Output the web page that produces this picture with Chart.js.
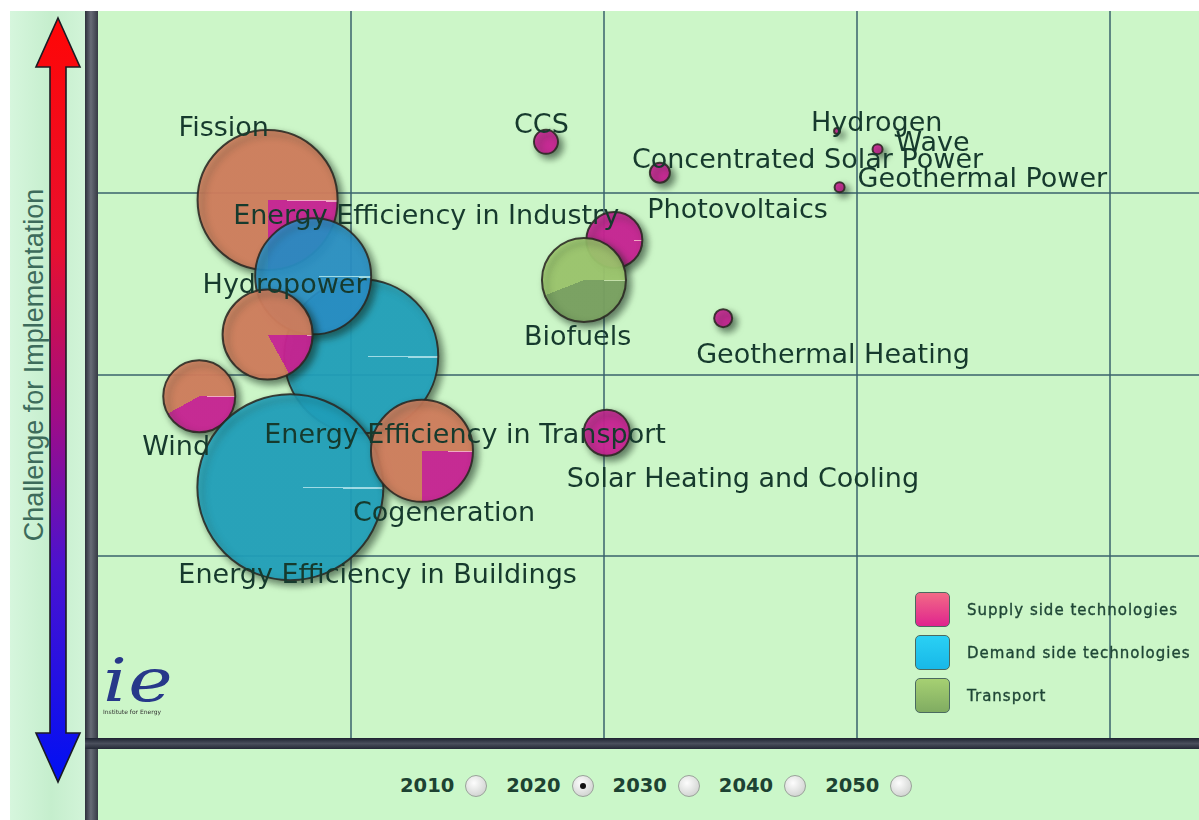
<!DOCTYPE html>
<html>
<head>
<meta charset="utf-8">
<title>Energy technologies - challenge for implementation</title>
<script src="https://cdn.jsdelivr.net/npm/chart.js@4.4.1/dist/chart.umd.min.js"></script>
<style>
body { margin:0; width:1199px; height:820px; overflow:hidden; position:relative; background:#fff; font-family:"DejaVu Sans", sans-serif; }
#side { position:absolute; left:10px; top:11px; width:75px; height:809px; background:linear-gradient(to right, #d6f6dd, #c5eecd 55%, #d2f4d8); }
#side svg { position:absolute; left:0; top:0; }
#axisTitle { position:absolute; left:24px; top:354px; transform:translate(-50%, -50%) rotate(-90deg); white-space:nowrap; font:27px "Liberation Sans", Arial, sans-serif; color:#3d6b5b; }
#vbar { position:absolute; left:85px; top:11px; width:13px; height:809px; background:linear-gradient(to right, #2c303a, #676b76 45%, #363a45); }
#plot { position:absolute; left:98px; top:11px; width:1101px; height:727px; background:#ccf6c8; }
#plot canvas { position:absolute; left:0; top:0; }
#hbar { position:absolute; left:85px; top:738px; width:1114px; height:11px; background:linear-gradient(#1d2230, #4a4f5c 50%, #242936); }
#bottom { position:absolute; left:98px; top:749px; width:1101px; height:71px; background:#cbf7c9; }
#years { position:absolute; left:400px; top:774px; display:flex; align-items:center; }
#years .yr { font:bold 19.5px "DejaVu Sans", sans-serif; color:#1d4232; }
#years .radio { width:20px; height:20px; border-radius:50%; border:1px solid #9aa29a; margin:0 19px 0 11px; background:radial-gradient(circle at 40% 35%, #fdfdfd, #d6d8d6 70%, #bfc2bf); position:relative; }
#years .radio.on:after { content:""; position:absolute; left:7px; top:7px; width:6px; height:6px; border-radius:50%; background:#111; }
#legend { position:absolute; left:915px; top:592px; }
#legend .row { display:flex; align-items:center; height:35px; margin-bottom:8px; }
#legend .sw { width:33px; height:33px; border-radius:5px; border:1px solid #4a6a60; margin-right:17px; }
#legend .txt { font:15px "DejaVu Sans", sans-serif; letter-spacing:1px; color:#1f4636; -webkit-text-stroke:0.35px #1f4636; }
#logo { position:absolute; left:103px; top:648px; color:#27388a; }
#logo .ie { font:italic 60px "DejaVu Serif", serif; line-height:64px; letter-spacing:1px; transform:scaleX(1.25); transform-origin:left; }
#logo .sub { font:6px "DejaVu Sans", sans-serif; color:#333; margin-top:-4px; }
</style>
</head>
<body>

<div id="side">
  <svg width="75" height="809">
    <defs>
      <linearGradient id="arrowGrad" x1="0" y1="0" x2="0" y2="1">
        <stop offset="0" stop-color="#ff0606"/>
        <stop offset="0.3" stop-color="#e8102e"/>
        <stop offset="0.52" stop-color="#a00c86"/>
        <stop offset="0.72" stop-color="#4a12d0"/>
        <stop offset="1" stop-color="#0010f4"/>
      </linearGradient>
    </defs>
    <polygon points="48,7 70,56 56,56 56,722 70,722 48,771 26,722 40,722 40,56 26,56"
             fill="url(#arrowGrad)" stroke="#1c1c24" stroke-width="1.6"/>
  </svg>
  <div id="axisTitle">Challenge for Implementation</div>
</div>
<div id="vbar"></div>
<div id="plot"><canvas id="bubbles" width="1101" height="727" style="width:1101px;height:727px"></canvas></div>
<div id="hbar"></div>
<div id="bottom"></div>

<div id="legend">
  <div class="row"><div class="sw" style="background:linear-gradient(#f26a86, #e0248e)"></div><span class="txt">Supply side technologies</span></div>
  <div class="row"><div class="sw" style="background:linear-gradient(#2ad0f4, #18b8e8)"></div><span class="txt">Demand side technologies</span></div>
  <div class="row"><div class="sw" style="background:linear-gradient(#a6d072, #80ac62)"></div><span class="txt">Transport</span></div>
</div>

<div id="logo"><div class="ie">ie</div><div class="sub">Institute for Energy</div></div>

<div id="years"></div>

<script>
// values, in drawing order (first = bottom)
var technologies = ['Energy Efficiency in Transport', 'Fission', 'Energy Efficiency in Industry', 'Hydropower',
    'Wind', 'Energy Efficiency in Buildings', 'Cogeneration', 'Photovoltaics', 'Biofuels', 'CCS',
    'Concentrated Solar Power', 'Geothermal Heating', 'Solar Heating and Cooling', 'Hydrogen', 'Wave',
    'Geothermal Power'];
var sectors = ['demand', 'supply', 'demand', 'supply', 'supply', 'demand', 'supply', 'supply', 'transport',
    'supply', 'supply', 'supply', 'supply', 'supply', 'supply', 'supply'];
var timeToMarket = [1.04, 0.67, 0.85, 0.67, 0.40, 0.76, 1.28, 2.04, 1.92, 1.77, 2.22, 2.47, 2.01, 2.92, 3.08, 2.93];
var challenge = [2.10, 2.96, 2.54, 2.22, 1.88, 1.38, 1.58, 2.74, 2.52, 3.28, 3.11, 2.31, 1.68, 3.34, 3.24, 3.03];
var potential = [77, 70, 58, 45, 36, 93, 51, 28, 42, 12, 10, 9, 23, 3, 5, 5];
var secondShare = [0, 0.25, 0, 0.17, 0.42, 0, 0.25, 1, 0.44, 1, 1, 1, 1, 1, 1, 1];
var xTicks = [1, 2, 3, 4];
var yTicks = [1, 2, 3];
var years = ['2010', '2020', '2030', '2040', '2050'];
var selectedYear = '2020';

var sectorColors = {
    supply: ['rgba(214,128,95,0.92)', 'rgba(204,36,150,0.93)', 'rgba(255,175,205,0.9)'],
    demand: ['rgba(32,166,196,0.88)', 'rgba(32,166,196,0.88)', 'rgba(165,228,242,0.9)'],
    transport: ['rgba(162,204,112,0.9)', 'rgba(124,164,98,0.93)', 'rgba(205,232,175,0.9)']
};
// the industry bubble is a bluer shade than the other demand bubbles
var bubbleTint = { 'Energy Efficiency in Industry': 'rgba(42,148,206,0.88)' };

// where each name sits relative to its bubble centre
var labelOffset = {
    'Fission': [-89, -71], 'Energy Efficiency in Industry': [-80, -59], 'Hydropower': [-65, -49],
    'Energy Efficiency in Transport': [-97, 80], 'Wind': [-57, 52], 'Energy Efficiency in Buildings': [-112, 89],
    'Cogeneration': [-69, 63], 'Photovoltaics': [33, -29], 'Biofuels': [-60, 58], 'CCS': [-32, -16],
    'Concentrated Solar Power': [-28, -12], 'Geothermal Heating': [-27, 38], 'Solar Heating and Cooling': [-40, 47],
    'Hydrogen': [-26, -7], 'Wave': [18, -5], 'Geothermal Power': [18, -7]
};

function pieFill(c) {
    var i = c.dataIndex;
    var col = sectorColors[sectors[i]].slice();
    var tint = bubbleTint[technologies[i]];
    if (tint) {
        col[0] = tint;
        col[1] = tint;
    }
    var chart = c.chart;
    if (c.type !== 'data' || !chart.scales || !chart.scales.x) {
        return col[0];
    }
    var px = chart.scales.x.getPixelForValue(timeToMarket[i]);
    var py = chart.scales.y.getPixelForValue(challenge[i]);
    if (!isFinite(px) || !isFinite(py)) {
        return col[0];
    }
    var share = secondShare[i];
    var g = chart.ctx.createConicGradient(0, px, py);
    g.addColorStop(0, col[2]);
    g.addColorStop(0.004, col[2]);
    if (share > 0) {
        g.addColorStop(0.004, col[1]);
        g.addColorStop(share, col[1]);
    }
    if (share < 1) {
        g.addColorStop(Math.max(share, 0.004), col[0]);
        g.addColorStop(1, col[0]);
    } else {
        g.addColorStop(1, col[1]);
    }
    return g;
}

var bubbleShadow = {
    id: 'bubbleShadow',
    beforeDatasetDraw: function (chart) {
        var ctx = chart.ctx;
        ctx.save();
        ctx.shadowColor = 'rgba(15, 35, 20, 0.62)';
        ctx.shadowBlur = 7;
        ctx.shadowOffsetX = 4;
        ctx.shadowOffsetY = 4;
    },
    afterDatasetDraw: function (chart) {
        chart.ctx.restore();
    }
};

var bubbleLabels = {
    id: 'bubbleLabels',
    afterDatasetsDraw: function (chart) {
        var ctx = chart.ctx;
        var meta = chart.getDatasetMeta(0);
        ctx.save();
        ctx.font = '27px "DejaVu Sans"';
        ctx.fillStyle = '#163a2d';
        ctx.textBaseline = 'middle';
        meta.data.forEach(function (el, i) {
            var off = labelOffset[technologies[i]];
            ctx.fillText(technologies[i], el.x + off[0], el.y + off[1]);
        });
        ctx.restore();
    }
};

var points = technologies.map(function (name, i) {
    return { x: timeToMarket[i], y: challenge[i], r: potential[i] };
});

var gridStyle = { color: 'rgba(58, 98, 108, 0.75)', lineWidth: 2, drawTicks: false };

var chart = new Chart(document.getElementById('bubbles'), {
    type: 'bubble',
    data: {
        datasets: [{
            label: 'Technologies',
            data: points,
            backgroundColor: pieFill,
            borderColor: 'rgba(42, 40, 34, 0.88)',
            borderWidth: 2,
            hoverRadius: 0,
            clip: false
        }]
    },
    options: {
        responsive: false,
        animation: false,
        devicePixelRatio: 1,
        layout: { padding: 0, autoPadding: false },
        events: [],
        scales: {
            x: {
                type: 'linear', min: 0, max: 4.35,
                afterBuildTicks: function (s) { s.ticks = xTicks.map(function (v) { return { value: v }; }); },
                ticks: { display: false },
                border: { display: false },
                grid: gridStyle
            },
            y: {
                type: 'linear', min: 0, max: 4,
                afterBuildTicks: function (s) { s.ticks = yTicks.map(function (v) { return { value: v }; }); },
                ticks: { display: false },
                border: { display: false },
                grid: gridStyle
            }
        },
        plugins: {
            legend: { display: false },
            tooltip: { enabled: false }
        }
    },
    plugins: [bubbleShadow, bubbleLabels]
});
// second pass so the pie gradients are built once the scales have their pixels
chart.update('none');

// year selector
var yearBox = document.getElementById('years');
years.forEach(function (y) {
    var t = document.createElement('span');
    t.className = 'yr';
    t.textContent = y;
    var r = document.createElement('span');
    r.className = 'radio' + (y === selectedYear ? ' on' : '');
    yearBox.appendChild(t);
    yearBox.appendChild(r);
});
</script>
</body>
</html>
